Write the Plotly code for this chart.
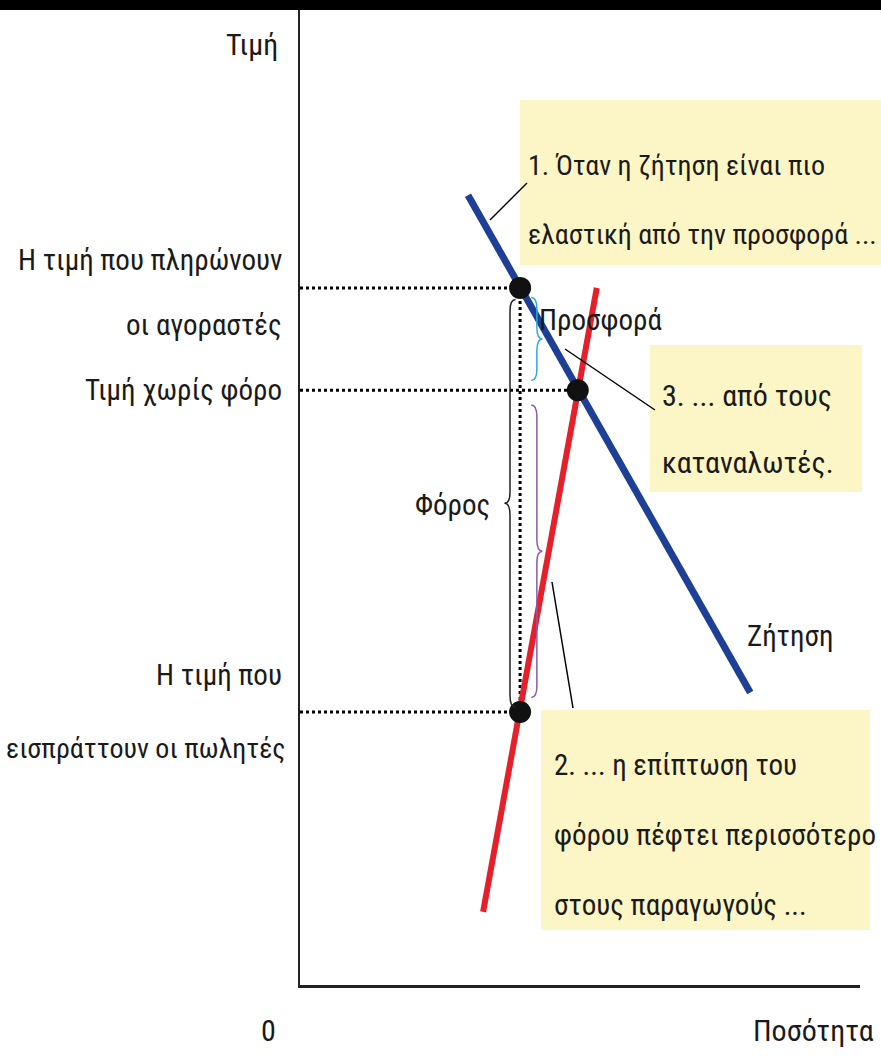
import plotly.graph_objects as go

# Supply and demand with a tax (axis units 0-10)
demand_q = [3.0, 8.04]
demand_p = [8.1, 3.0]
supply_q = [3.27, 5.30]
supply_p = [0.75, 7.15]

q_tax = 3.93        # quantity with the tax
q_eq = 4.96         # quantity without the tax
p_buyers = 7.15     # price buyers pay
p_eq = 6.10         # price without the tax
p_sellers = 2.80    # price sellers receive

W, H = 881, 1056
L, R, T, B = 300, 21, 10, 71
FONT = "Roboto Condensed, Roboto, sans-serif"


def px(x, y):
    # pixel position -> paper coords
    return (x - L) / (W - L - R), (H - B - y) / (H - T - B)


def brace(x, y0, y1, w):
    # curly brace along y0..y1, open side at x, tip at x - w
    ym = (y0 + y1) / 2
    r = 0.12
    h = x - w / 2
    return (f"M{x},{y1} Q{h},{y1} {h},{y1 - r} L{h},{ym + r} "
            f"Q{h},{ym} {x - w},{ym} Q{h},{ym} {h},{ym - r} "
            f"L{h},{y0 + r} Q{h},{y0} {x},{y0}")


fig = go.Figure()

# dotted guide lines
for p, q in [(p_buyers, q_tax), (p_eq, q_eq), (p_sellers, q_tax)]:
    fig.add_trace(go.Scatter(x=[0, q], y=[p, p], mode="lines",
                             line=dict(color="black", width=3, dash="dot"),
                             hoverinfo="skip"))
fig.add_trace(go.Scatter(x=[q_tax, q_tax], y=[p_sellers, p_buyers], mode="lines",
                         line=dict(color="black", width=3, dash="dot"),
                         hoverinfo="skip"))

fig.add_trace(go.Scatter(x=demand_q, y=demand_p, mode="lines",
                         line=dict(color="#1d3f96", width=7), name="Ζήτηση"))
fig.add_trace(go.Scatter(x=supply_q, y=supply_p, mode="lines",
                         line=dict(color="#e5202a", width=6), name="Προσφορά"))
fig.add_trace(go.Scatter(x=[q_tax, q_eq, q_tax], y=[p_buyers, p_eq, p_sellers],
                         mode="markers", marker=dict(color="#111", size=22),
                         hoverinfo="skip"))

shapes = []
# black top bar
x0, y0 = px(0, 10)
x1, y1 = px(W, 0)
shapes.append(dict(type="rect", xref="paper", yref="paper", x0=x0, x1=x1, y0=y0, y1=y1,
                   fillcolor="black", line_width=0, layer="above"))

# yellow boxes
for bx0, by0, bx1, by1 in [(520, 100, 885, 265), (650, 345, 862, 492), (541, 710, 870, 930)]:
    a0, b0 = px(bx0, by0)
    a1, b1 = px(bx1, by1)
    shapes.append(dict(type="rect", xref="paper", yref="paper", x0=a0, x1=a1, y0=b1, y1=b0,
                       fillcolor="#fcf6c6", line_width=0, layer="below"))

# callout lines
for (ax, ay), (bx, by) in [((527, 183), (490, 220)), ((655, 410), (565, 349)),
                            ((573, 708), (552, 582))]:
    a0, b0 = px(ax, ay)
    a1, b1 = px(bx, by)
    shapes.append(dict(type="line", xref="paper", yref="paper", x0=a0, y0=b0, x1=a1, y1=b1,
                       line=dict(color="black", width=1.5)))

# braces
shapes.append(dict(type="path", xref="x", yref="y", path=brace(q_tax - 0.08, p_sellers + 0.05, p_buyers - 0.12, 0.2),
                   line=dict(color="#222", width=1.5)))
shapes.append(dict(type="path", xref="x", yref="y", path=brace(q_tax + 0.2, p_eq + 0.1, p_buyers - 0.1, -0.2),
                   line=dict(color="#2aa9e0", width=1.5)))
shapes.append(dict(type="path", xref="x", yref="y", path=brace(q_tax + 0.2, p_sellers + 0.15, p_eq - 0.15, -0.2),
                   line=dict(color="#8a5aa8", width=1.5)))

texts = [
    ("Τιμή", 280, 45, "right", 30),
    ("Η τιμή που πληρώνουν", 284, 260, "right", 29),
    ("οι αγοραστές", 284, 325, "right", 29),
    ("Τιμή χωρίς φόρο", 284, 390, "right", 29),
    ("Η τιμή που", 284, 675, "right", 29),
    ("εισπράττουν οι πωλητές", 288, 748, "right", 28),
    ("0", 259, 1030, "left", 30),
    ("Ποσότητα", 876, 1030, "right", 30),
    ("Προσφορά", 537, 320, "left", 29),
    ("Ζήτηση", 745, 636, "left", 29),
    ("Φόρος", 492, 505, "right", 29),
    ("1. Όταν η ζήτηση είναι πιο", 526, 165, "left", 28),
    ("ελαστική από την προσφορά ...", 526, 235, "left", 28),
    ("3. ... από τους", 660, 395, "left", 30),
    ("καταναλωτές.", 660, 462, "left", 30),
    ("2. ... η επίπτωση του", 552, 765, "left", 29),
    ("φόρου πέφτει περισσότερο", 552, 835, "left", 29),
    ("στους παραγωγούς ...", 552, 905, "left", 29),
]
annotations = []
for t, x, y, anchor, size in texts:
    ax, ay = px(x, y)
    annotations.append(dict(text=t, x=ax, y=ay, xref="paper", yref="paper",
                            xanchor=anchor, yanchor="middle", showarrow=False,
                            font=dict(family=FONT, size=size, color="#1a1a1a")))

fig.update_layout(
    width=W, height=H,
    margin=dict(l=L, r=R, t=T, b=B),
    plot_bgcolor="white", paper_bgcolor="white",
    showlegend=False,
    shapes=shapes, annotations=annotations,
    xaxis=dict(range=[0, 10], showgrid=False, zeroline=False, showticklabels=False,
               showline=True, linecolor="#222", linewidth=3),
    yaxis=dict(range=[0, 10], showgrid=False, zeroline=False, showticklabels=False,
               showline=True, linecolor="#222", linewidth=2),
)

fig.write_html("out.html", config={"displayModeBar": False},
               post_script="document.body.style.margin='0';")
